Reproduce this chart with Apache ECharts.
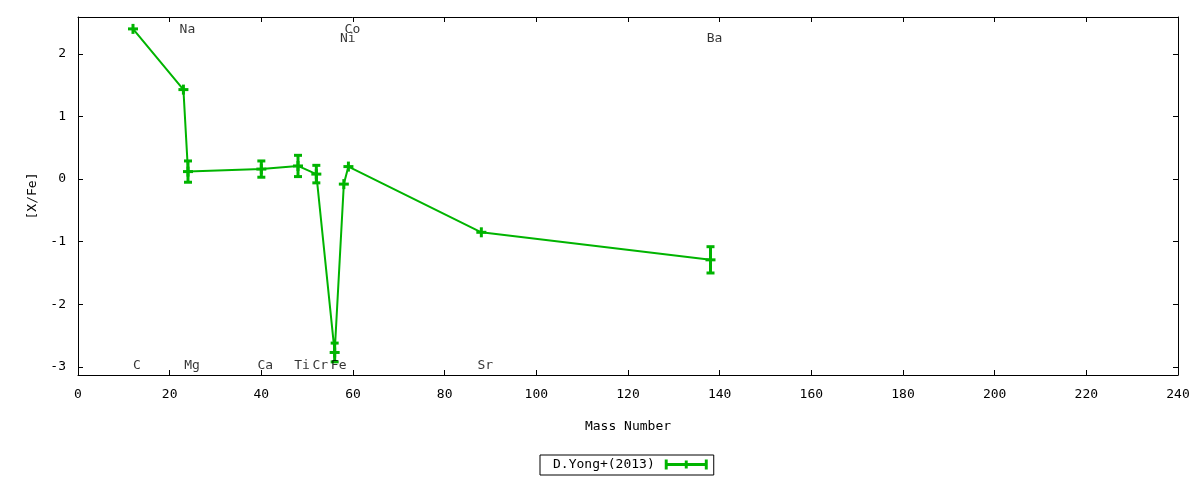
<!DOCTYPE html>
<html>
<head>
<meta charset="utf-8">
<script src="https://cdn.jsdelivr.net/npm/echarts@6/dist/echarts.min.js"></script>
<style>
html,body{margin:0;padding:0;background:#fff;}
#chart{width:1200px;height:480px;}
</style>
</head>
<body>
<div id="chart"></div>
<script>
// ---- data ----
var elements = ['C', 'Na', 'Mg', 'Ca', 'Ti', 'Cr', 'Fe', 'Ni', 'Co', 'Sr', 'Ba'];
var massNumber = [12, 23, 24, 40, 48, 52, 56, 58, 59, 88, 138];
var abundance = [2.40, 1.43, 0.12, 0.16, 0.21, 0.08, -2.77, -0.08, 0.20, -0.85, -1.29];
var abundanceErr = [0, 0, 0.17, 0.13, 0.17, 0.14, 0.15, 0, 0, 0, 0.21];

// element label positions (in data coordinates)
var labelNames = ['C', 'Na', 'Mg', 'Ca', 'Ti', 'Cr', 'Fe', 'Ni', 'Co', 'Sr', 'Ba'];
var labelX = [12, 23, 24, 40, 48, 52, 56, 58, 59, 88, 138];
var labelY = [-2.95, 2.415, -2.95, -2.95, -2.95, -2.95, -2.95, 2.27, 2.415, -2.95, 2.27];

// tick labels
var xTicks = [0, 20, 40, 60, 80, 100, 120, 140, 160, 180, 200, 220, 240];
var yTicks = [-3, -2, -1, 0, 1, 2];
var xMin = 0, xMax = 240;
var yMin = -3.13, yMax = 2.59;

var seriesName = 'D.Yong+(2013)';
var green = '#00b400';
var FONT = '"DejaVu Sans Mono", "Liberation Mono", monospace';

var pts = massNumber.map(function (m, i) { return [m, abundance[i], abundanceErr[i]]; });
var labelPts = labelX.map(function (m, i) { return { value: [m, labelY[i]], name: labelNames[i] }; });

var chart = echarts.init(document.getElementById('chart'), null, { renderer: 'canvas' });

function makeAxis(pos, ticks, min, max, showLabels) {
  return {
    type: 'value', position: pos, min: min, max: max,
    axisLine: { show: true, onZero: false, lineStyle: { color: '#000', width: 1 } },
    axisTick: { show: true, inside: true, length: 5, customValues: ticks, lineStyle: { color: '#000', width: 1 } },
    splitLine: { show: false },
    axisLabel: { show: showLabels, customValues: ticks, color: '#000', fontFamily: FONT, fontSize: 13 }
  };
}

var xBottom = makeAxis('bottom', xTicks, xMin, xMax, true);
xBottom.name = 'Mass Number';
xBottom.nameLocation = 'middle';
xBottom.nameGap = 45;
xBottom.nameTextStyle = { color: '#000', fontFamily: FONT, fontSize: 13 };
xBottom.axisLabel.margin = 13;
var xTop = makeAxis('top', xTicks, xMin, xMax, false);

var yLeft = makeAxis('left', yTicks, yMin, yMax, true);
yLeft.name = '[X/Fe]';
yLeft.nameLocation = 'middle';
yLeft.nameGap = 38;
yLeft.nameRotate = 90;
yLeft.nameTextStyle = { color: '#000', fontFamily: FONT, fontSize: 13 };
yLeft.axisLabel.margin = 12;
var yRight = makeAxis('right', yTicks, yMin, yMax, false);

function renderErr(params, api) {
  var x = api.value(0), y = api.value(1), e = api.value(2);
  var c = api.coord([x, y]);
  var children = [];
  var style = { stroke: green, lineWidth: 3, fill: null };
  if (e > 0) {
    var top = api.coord([x, y + e]);
    var bot = api.coord([x, y - e]);
    children.push({ type: 'line', shape: { x1: top[0], y1: top[1], x2: bot[0], y2: bot[1] }, style: style });
    children.push({ type: 'line', shape: { x1: top[0] - 4, y1: top[1], x2: top[0] + 4, y2: top[1] }, style: style });
    children.push({ type: 'line', shape: { x1: bot[0] - 4, y1: bot[1], x2: bot[0] + 4, y2: bot[1] }, style: style });
  }
  children.push({ type: 'line', shape: { x1: c[0] - 5, y1: c[1], x2: c[0] + 5, y2: c[1] }, style: style });
  children.push({ type: 'line', shape: { x1: c[0], y1: c[1] - 5, x2: c[0], y2: c[1] + 5 }, style: style });
  return { type: 'group', children: children };
}

var option = {
  backgroundColor: '#fff',
  animation: false,
  grid: { left: 78, right: 22, top: 17, bottom: 105, containLabel: false },
  xAxis: [xBottom, xTop],
  yAxis: [yLeft, yRight],
  legend: {
    show: true,
    data: [{ name: seriesName, icon: 'path://M0,3.5h44v3h-44z M0,0h3v10h-3z M20.5,1h3v8h-3z M41,0h3v10h-3z' }],
    left: 540, top: 455,
    align: 'right',
    itemWidth: 43, itemHeight: 10,
    padding: [3, 6, 4, 13],
    borderColor: '#000', borderWidth: 1, borderRadius: 0,
    textStyle: { color: '#000', fontFamily: FONT, fontSize: 13, padding: [0, 5, 0, 0] },
    itemStyle: { color: green }
  },
  series: [
    {
      name: seriesName,
      type: 'line',
      xAxisIndex: 0, yAxisIndex: 0,
      data: pts.map(function (p) { return [p[0], p[1]]; }),
      showSymbol: false,
      symbol: 'none',
      lineStyle: { color: green, width: 2 },
      itemStyle: { color: green },
      z: 2
    },
    {
      name: seriesName,
      type: 'custom',
      xAxisIndex: 0, yAxisIndex: 0,
      data: pts,
      renderItem: renderErr,
      encode: { x: 0, y: 1 },
      itemStyle: { color: green },
      z: 3
    },
    {
      name: 'labels',
      type: 'scatter',
      xAxisIndex: 0, yAxisIndex: 0,
      data: labelPts,
      symbolSize: 0,
      silent: true,
      label: {
        show: true, position: 'inside', offset: [4, 2],
        formatter: function (p) { return p.name; },
        color: '#000', fontFamily: FONT, fontSize: 13
      },
      z: 4
    }
  ]
};
chart.setOption(option);
</script>
</body>
</html>
